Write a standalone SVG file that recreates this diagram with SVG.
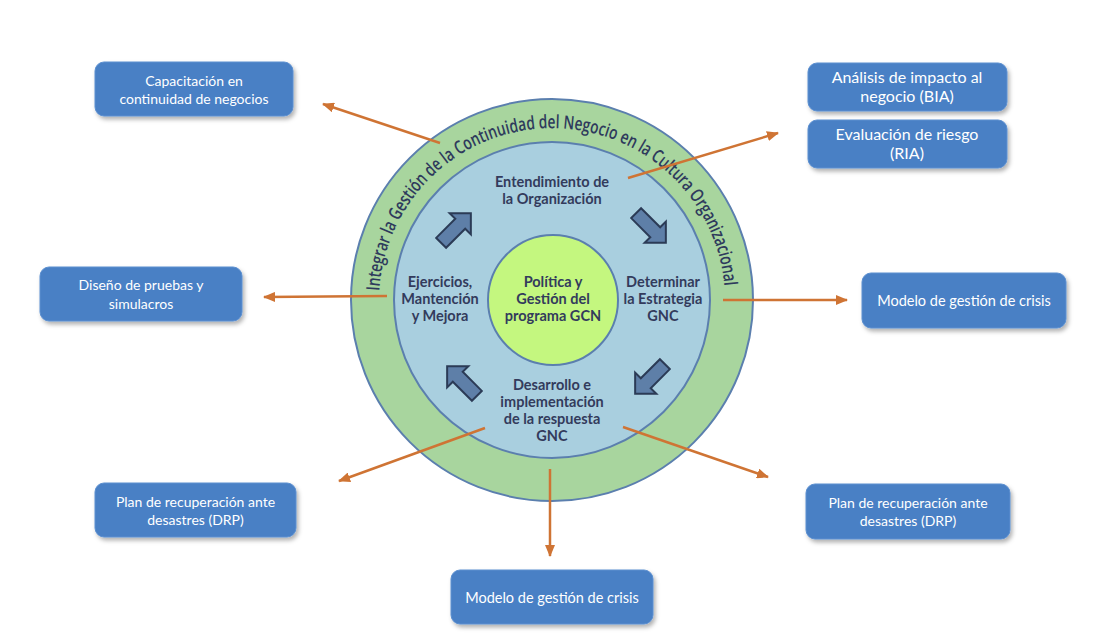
<svg xmlns="http://www.w3.org/2000/svg" width="1120" height="640" viewBox="0 0 1120 640">
<style>
.box{fill:#4a80c5;stroke:#5b8fd0;stroke-width:1;filter:url(#sh)}
.bt{font-family:Lato,"Open Sans",sans-serif;fill:#ffffff;text-anchor:middle}
.it{font-family:Lato,"Open Sans",sans-serif;font-weight:bold;font-size:14.5px;fill:#333b5c;text-anchor:middle}
.ring{stroke:#5b7fae;stroke-width:2}
.con{stroke:#cf7434;stroke-width:2.5;fill:none;marker-end:url(#ah)}
.bar{fill:#5e7fa8;stroke:#2b3b56;stroke-width:2;stroke-linejoin:miter}
</style>
<defs>
<filter id="sh" x="-10%" y="-20%" width="125%" height="150%">
<feDropShadow dx="2" dy="3" stdDeviation="2" flood-color="#000" flood-opacity="0.3"/>
</filter>
<marker id="ah" markerUnits="userSpaceOnUse" markerWidth="12" markerHeight="10" refX="11" refY="5" orient="auto">
<path d="M0,0 L12,5 L0,10 Z" fill="#cf7434"/>
</marker>
<path id="blk" d="M-21,-7 L6,-7 L6,-15 L21,0 L6,15 L6,7 L-21,7 Z"/>
<path id="arcText" d="M379.3,291 A173,173 0 0 1 724.7,291"/>
</defs>
<rect width="1120" height="640" fill="#ffffff"/>

<g id="rings">
<circle class="ring" cx="552" cy="300" r="201" fill="#a8d59e"/>
<circle class="ring" cx="552" cy="300" r="158" fill="#a9cfdf"/>
<circle class="ring" cx="553" cy="300" r="65" fill="#c4f77f"/>
<text font-family="'Open Sans',Lato,sans-serif" font-weight="600" font-size="18.5" fill="#2e3a5c"><textPath href="#arcText" textLength="518" lengthAdjust="spacingAndGlyphs">Integrar la Gestión de la Continuidad del Negocio en la Cultura Organizacional</textPath></text>
</g>

<g id="cycle-arrows">
<use href="#blk" class="bar" transform="translate(456,228) rotate(-45)"/>
<use href="#blk" class="bar" transform="translate(651,228) rotate(45)"/>
<use href="#blk" class="bar" transform="translate(650,379) rotate(135)"/>
<use href="#blk" class="bar" transform="translate(462,381) rotate(-135)"/>
</g>

<g id="n-centro"><text class="it" x="553" y="287">Política y</text><text class="it" x="553" y="304">Gestión del</text><text class="it" x="553" y="321">programa GCN</text></g>
<g id="n-entendimiento"><text class="it" x="552" y="187">Entendimiento de</text><text class="it" x="552" y="204">la Organización</text></g>
<g id="n-determinar"><text class="it" x="663" y="287">Determinar</text><text class="it" x="663" y="304">la Estrategia</text><text class="it" x="663" y="321">GNC</text></g>
<g id="n-desarrollo"><text class="it" x="552" y="390">Desarrollo e</text><text class="it" x="552" y="407">implementación</text><text class="it" x="552" y="424">de la respuesta</text><text class="it" x="552" y="441">GNC</text></g>
<g id="n-ejercicios"><text class="it" x="440" y="287">Ejercicios,</text><text class="it" x="440" y="304">Mantención</text><text class="it" x="440" y="321">y Mejora</text></g>

<g id="connectors">
<line class="con" x1="440" y1="143" x2="323" y2="104"/>
<line class="con" x1="628" y1="178" x2="778" y2="133"/>
<line class="con" x1="387" y1="296" x2="264" y2="297"/>
<line class="con" x1="723" y1="300" x2="847" y2="300"/>
<line class="con" x1="485" y1="428" x2="339" y2="481"/>
<line class="con" x1="623" y1="427" x2="768" y2="477"/>
<line class="con" x1="550" y1="469" x2="550" y2="556"/>
</g>

<g id="b-capacitacion"><rect class="box" x="95" y="62" width="198" height="54" rx="9"/><text class="bt" font-size="14" x="194" y="86">Capacitación en</text><text class="bt" font-size="14" x="194" y="104">continuidad de negocios</text></g>
<g id="b-bia"><rect class="box" x="808" y="63" width="199" height="48" rx="9"/><text class="bt" font-size="16" x="907" y="83">Análisis de impacto al</text><text class="bt" font-size="16" x="907" y="102">negocio (BIA)</text></g>
<g id="b-ria"><rect class="box" x="808" y="120" width="199" height="48" rx="9"/><text class="bt" font-size="16" x="907" y="140">Evaluación de riesgo</text><text class="bt" font-size="16" x="907" y="159">(RIA)</text></g>
<g id="b-pruebas"><rect class="box" x="40" y="267" width="202" height="54" rx="9"/><text class="bt" font-size="14" x="141" y="290">Diseño de pruebas y</text><text class="bt" font-size="14" x="141" y="309">simulacros</text></g>
<g id="b-crisis-der"><rect class="box" x="862" y="273" width="204" height="55" rx="9"/><text class="bt" font-size="14.5" x="964" y="306">Modelo de gestión de crisis</text></g>
<g id="b-drp-izq"><rect class="box" x="95" y="483" width="201" height="54" rx="9"/><text class="bt" font-size="14" x="195.5" y="507">Plan de recuperación ante</text><text class="bt" font-size="14" x="195.5" y="525">desastres (DRP)</text></g>
<g id="b-drp-der"><rect class="box" x="806" y="484" width="204" height="55" rx="9"/><text class="bt" font-size="14" x="908" y="508">Plan de recuperación ante</text><text class="bt" font-size="14" x="908" y="526">desastres (DRP)</text></g>
<g id="b-crisis-inf"><rect class="box" x="451" y="570" width="202" height="54" rx="9"/><text class="bt" font-size="14.5" x="552" y="603">Modelo de gestión de crisis</text></g>
</svg>
